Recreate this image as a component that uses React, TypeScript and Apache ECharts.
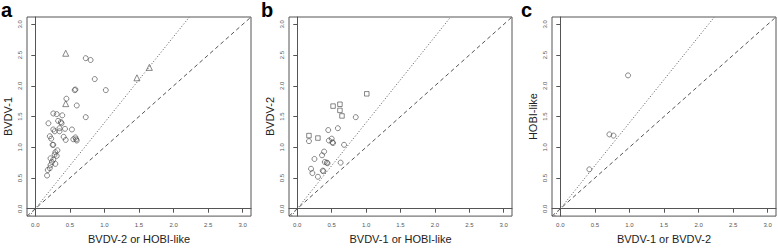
import React, { useEffect, useRef } from "react";
import * as echarts from "echarts";

const AXIS_MIN = -0.12;
const AXIS_MAX = 3.12;
const tickValues = [0, 0.5, 1, 1.5, 2, 2.5, 3];
const dottedSlope = 1.4;

const panelLetters = ["a", "b", "c"];
const xTitles = ["BVDV-2 or HOBI-like", "BVDV-1 or HOBI-like", "BVDV-1 or BVDV-2"];
const yTitles = ["BVDV-1", "BVDV-2", "HOBI-like"];

const panelACircles = [
  [0.73, 2.45], [0.8, 2.42], [0.86, 2.11], [1.02, 1.93], [0.57, 1.93], [0.58, 1.94],
  [0.45, 1.79], [0.6, 1.68], [0.26, 1.55], [0.31, 1.54], [0.39, 1.52], [0.19, 1.39],
  [0.33, 1.43], [0.37, 1.41], [0.38, 1.39], [0.73, 1.49], [0.35, 1.31], [0.26, 1.29],
  [0.28, 1.26], [0.35, 1.26], [0.43, 1.3], [0.53, 1.29], [0.21, 1.18], [0.23, 1.14],
  [0.41, 1.17], [0.44, 1.12], [0.55, 1.13], [0.58, 1.16], [0.6, 1.11], [0.59, 1.13],
  [0.25, 1.04], [0.26, 1.04], [0.32, 0.95], [0.29, 0.92], [0.28, 0.88], [0.31, 0.86],
  [0.22, 0.82], [0.26, 0.8], [0.24, 0.76], [0.29, 0.73], [0.22, 0.71], [0.21, 0.66],
  [0.18, 0.63], [0.17, 0.54],
];
const panelATriangles = [[0.44, 2.53], [1.47, 2.13], [1.65, 2.3], [0.44, 1.71]];

const panelBSquares = [
  [1.01, 1.87], [0.52, 1.67], [0.62, 1.7], [0.62, 1.6], [0.65, 1.51], [0.17, 1.19], [0.3, 1.15],
];
const panelBCircles = [
  [0.85, 1.49], [0.17, 1.1], [0.45, 1.28], [0.59, 1.31], [0.46, 1.11], [0.5, 1.14],
  [0.51, 1.08], [0.52, 1.07], [0.68, 1.04], [0.39, 0.93], [0.36, 0.87], [0.25, 0.81],
  [0.4, 0.76], [0.43, 0.75], [0.44, 0.74], [0.63, 0.75], [0.2, 0.65], [0.22, 0.58],
  [0.3, 0.52], [0.37, 0.62], [0.38, 0.61],
];

const panelCCircles = [[0.98, 2.17], [0.71, 1.21], [0.77, 1.19], [0.42, 0.64]];

const grids = [
  { left: 27, top: 17, width: 224, height: 206 },
  { left: 289, top: 17, width: 223, height: 206 },
  { left: 552, top: 17, width: 224, height: 206 },
];
const letterX = [1, 261, 521];

const INK = "#444";

function App() {
  const ref = useRef<HTMLDivElement>(null);
  useEffect(() => {
    if (!ref.current) return;
    const chart = echarts.init(ref.current, null, { renderer: "svg" });

    const markerSeries = (gi: number, data: number[][], symbol: string, size: number) => ({
      type: "scatter",
      xAxisIndex: gi,
      yAxisIndex: gi,
      data,
      symbol,
      symbolSize: size,
      silent: true,
      itemStyle: { color: "rgba(0,0,0,0)", borderColor: INK, borderWidth: 0.8 },
      z: 5,
    });
    const lineSeries = (gi: number, slope: number, type: any) => {
      const x0 = slope >= 1 ? AXIS_MIN / slope : AXIS_MIN;
      const x1 = slope >= 1 ? AXIS_MAX / slope : AXIS_MAX;
      return {
        type: "line",
        xAxisIndex: gi,
        yAxisIndex: gi,
        data: [[x0, x0 * slope], [x1, x1 * slope]],
        symbol: "none",
        silent: true,
        lineStyle: { color: "#555", width: 1, type },
        z: 3,
      };
    };

    const series: any[] = [];
    for (let gi = 0; gi < 3; gi++) {
      series.push(lineSeries(gi, 1, [4, 3]));
      series.push(lineSeries(gi, dottedSlope, [1, 2]));
    }
    series.push(markerSeries(0, panelACircles, "circle", 5));
    series.push(markerSeries(0, panelATriangles, "triangle", 6));
    series.push(markerSeries(1, panelBCircles, "circle", 5));
    series.push(markerSeries(1, panelBSquares, "rect", 4.5));
    series.push(markerSeries(2, panelCCircles, "circle", 5));

    const fmt = (v: number) => v.toFixed(1);
    const axisBase = {
      type: "value",
      min: AXIS_MIN,
      max: AXIS_MAX,
      splitLine: { show: false },
      axisLine: { show: true, lineStyle: { color: "#555", width: 1 } },
      axisTick: { show: true, inside: false, length: 4, customValues: tickValues, lineStyle: { color: "#555" } },
    };

    const option: any = {
      animation: false,
      backgroundColor: "#fff",
      grid: grids.map((g) => ({ ...g, show: true, borderColor: "#555", borderWidth: 1, backgroundColor: "transparent" })),
      xAxis: grids.map((_, gi) => ({
        ...axisBase,
        gridIndex: gi,
        name: xTitles[gi],
        nameLocation: "middle",
        nameGap: 12,
        nameTextStyle: { fontFamily: "Liberation Sans, Arial, sans-serif", fontSize: 11, color: "#222" },
        axisLabel: {
          customValues: tickValues,
          formatter: fmt,
          fontSize: 6,
          color: "#555",
          margin: 6,
          fontFamily: "Liberation Sans, Arial, sans-serif",
        },
      })),
      yAxis: grids.map((_, gi) => ({
        ...axisBase,
        gridIndex: gi,
        name: yTitles[gi],
        nameLocation: "middle",
        nameGap: 14,
        nameTextStyle: { fontFamily: "Liberation Sans, Arial, sans-serif", fontSize: 11, color: "#222" },
        axisLabel: {
          customValues: tickValues,
          formatter: fmt,
          fontSize: 6,
          color: "#555",
          margin: 4,
          rotate: 90,
          fontFamily: "Liberation Sans, Arial, sans-serif",
        },
      })),
      graphic: panelLetters.map((t, i) => ({
        type: "text",
        left: letterX[i],
        top: 0,
        style: { text: t, font: "bold 20px Liberation Sans, Arial, sans-serif", fill: "#000" },
      })),
      series,
    };
    chart.setOption(option);
    return () => chart.dispose();
  }, []);
  return (
    <div
      ref={ref}
      style={{ position: "absolute", left: 0, top: 0, width: 778, height: 249, background: "#fff" }}
    />
  );
}

export default App;
